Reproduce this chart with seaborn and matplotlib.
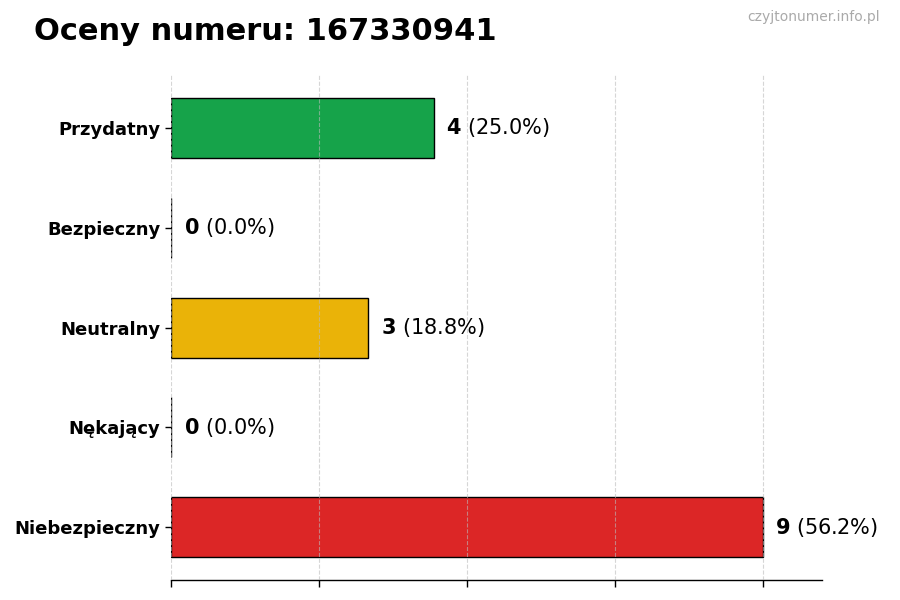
import pandas as pd
import seaborn as sns
import matplotlib.pyplot as plt

# Data
categories = ["Przydatny", "Bezpieczny", "Neutralny", "Nękający", "Niebezpieczny"]
counts = [4, 0, 3, 0, 9]
colors = ["#16a34a", "#3b82f6", "#eab308", "#f97316", "#dc2626"]
number = "167330941"

def run():
    df = pd.DataFrame({"kategoria": categories, "liczba": counts})
    total = sum(counts)

    sns.set_theme(style="white")
    plt.rcParams["font.family"] = ["DejaVu Sans"]
    plt.rcParams["text.color"] = "black"
    plt.rcParams["xtick.color"] = "black"
    plt.rcParams["ytick.color"] = "black"
    plt.rcParams["axes.labelcolor"] = "black"

    fig = plt.figure(figsize=(9, 6), dpi=100)
    ax = fig.add_axes([0.19, 0.033, 0.723, 0.842])

    sns.barplot(data=df, x="liczba", y="kategoria", hue="kategoria",
                palette=colors, order=categories, hue_order=categories,
                width=0.6, edgecolor="black", linewidth=1, legend=False,
                saturation=1, dodge=False, ax=ax, zorder=1)

    vmax = max(counts)
    ax.set_xlim(0, vmax * 1.1)
    ax.set_ylim(len(categories) - 1 + 0.53, -0.53)
    ax.set_xticks([vmax * i / 4 for i in range(5)])
    ax.set_xticklabels([])
    ax.tick_params(axis="x", length=5, width=1, color="black", bottom=True)
    ax.tick_params(axis="y", length=4, width=1, color="black", left=True, labelsize=13,
                   labelcolor="black")
    for lbl in ax.get_yticklabels():
        lbl.set_fontweight("bold")
    ax.set_xlabel("")
    ax.set_ylabel("")
    ax.xaxis.grid(True, linestyle="--", color="#bbbbbb", linewidth=0.8, alpha=0.6, zorder=3)
    ax.set_axisbelow(False)

    sns.despine(ax=ax, left=True, top=True, right=True)
    ax.spines["bottom"].set_color("black")
    ax.spines["bottom"].set_linewidth(1)

    for i, c in enumerate(counts):
        pct = 100 * c / total
        ax.annotate(rf"$\bf{{{c}}}$ ({pct:.1f}%)", xy=(c, i), xytext=(9, 0),
                    textcoords="offset points", va="center", ha="left",
                    fontsize=15, color="black")

    fig.text(0.038, 0.948, f"Oceny numeru: {number}", fontsize=22,
             fontweight="bold", ha="left", va="center", color="black")
    fig.text(0.978, 0.971, "czyjtonumer.info.pl", fontsize=10,
             color="#aaaaaa", ha="right", va="center")

    fig.savefig("out.png", dpi=100)

if __name__ == "__main__":
    run()
